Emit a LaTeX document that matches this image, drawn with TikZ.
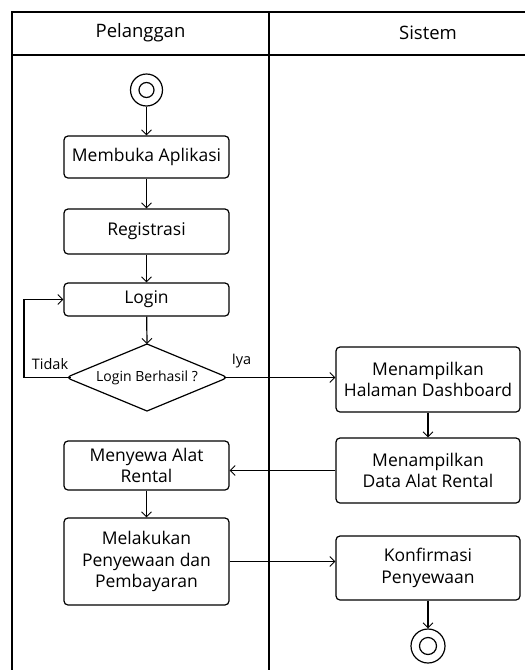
\documentclass[tikz,border=0pt]{standalone}
\usepackage{fontspec}
\setmainfont{Open Sans}
\usetikzlibrary{arrows.meta}
\begin{document}
\begin{tikzpicture}[x=1pt,y=-1pt,
  every node/.style={inner sep=0pt},
  act/.style={draw, line width=1.2pt, rounded corners=4pt, align=center,
    font=\fontsize{17.5}{21.5}\selectfont},
  lane/.style={line width=1.2pt},
  flow/.style={line width=1.2pt, -{Straight Barb[length=5pt,width=10pt,line width=0.9pt]}},
  lbl/.style={font=\fontsize{14.5}{17}\selectfont},
  ring/.style={draw, circle, line width=1.2pt}]
\useasboundingbox (0,0) rectangle (525,670);

% swimlane frame
\draw[lane] (12,670) -- (12,12) -- (530,12);
\draw[lane] (12,55) -- (530,55);
\draw[lane] (269,12) -- (269,670);
\node[font=\fontsize{18.5}{22}\selectfont] (hPel) at (140.5,33) {Pelanggan};
\node[font=\fontsize{18.5}{22}\selectfont] (hSis) at (428,33) {Sistem};

% start
\node[ring, minimum size=32pt] (start) at (146.5,90) {};
\node[ring, minimum size=15pt] (startIn) at (146.5,90) {};

% Pelanggan actions
\node[act, minimum width=165pt, minimum height=42pt] (buka) at (146.5,157) {Membuka Aplikasi};
\node[act, minimum width=165pt, minimum height=45pt] (reg) at (146.5,231.5) {Registrasi};
\node[act, minimum width=165pt, minimum height=33pt] (login) at (146.5,299.5) {Login};

% decision: diamond with rounded side points
\draw[line width=1.2pt, line join=round]
  (75.5,373.6) -- (147,344) -- (218.5,373.6)
  .. controls (228,377.5) .. (218.5,381.4) -- (147,411) -- (75.5,381.4)
  .. controls (66,377.5) .. cycle;
\node[font=\fontsize{14}{17}\selectfont] (cek) at (147,377.5) {Login Berhasil ?};
\coordinate (dL) at (70.5,377.5);
\coordinate (dR) at (223.5,377.5);
\coordinate (dT) at (147,344);

\node[act, minimum width=165pt, minimum height=49pt] (sewa) at (146.5,465.5) {Menyewa Alat\\Rental};
\node[act, minimum width=165pt, minimum height=87pt] (bayar) at (146.5,561.5) {Melakukan\\Penyewaan dan\\Pembayaran};

% Sistem actions
\node[act, minimum width=184pt, minimum height=65pt] (dash) at (428,379.5) {Menampilkan\\Halaman Dashboard};
\node[act, minimum width=184pt, minimum height=65pt] (data) at (428,470.5) {Menampilkan\\Data Alat Rental};
\node[act, minimum width=184pt, minimum height=64pt] (konf) at (428,568) {Konfirmasi\\Penyewaan};

% end
\node[ring, minimum size=34pt] (end) at (428,646) {};
\node[ring, minimum size=17pt] (endIn) at (428,646) {};

% flows
\draw[flow] (start) -- (buka);
\draw[flow] (buka) -- (reg);
\draw[flow] (reg) -- (login);
\draw[flow] (login) -- (dT);
\draw[flow] (dL) -- (24,377.5) -- (24,299.5) -- (login.west);
\draw[flow] (dR) -- (dash.west |- dR);
\draw[flow] (dash) -- (data);
\draw[flow] (data.west) -- (sewa.east |- data.west);
\draw[flow] (sewa) -- (bayar);
\draw[flow] (bayar.east) -- (konf.west |- bayar.east);
\draw[flow] (konf) -- (end);

\node[lbl] (tidak) at (50,364) {Tidak};
\node[lbl] (iya) at (241.5,361) {Iya};
\end{tikzpicture}
\end{document}
